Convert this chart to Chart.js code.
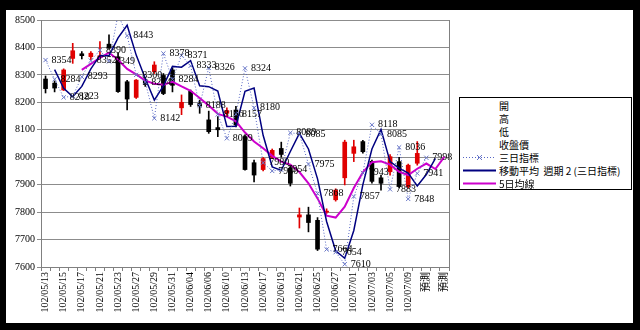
<!DOCTYPE html>
<html>
<head>
<meta charset="utf-8">
<script src="https://cdn.jsdelivr.net/npm/chart.js"></script>
<style>
  body { margin: 0; }
  #frame { position: relative; width: 640px; height: 330px; background: #000; overflow: hidden; }
  #panel { position: absolute; left: 6px; top: 10px; width: 627px; height: 313px; background: #fff; }
  #chart { position: absolute; left: 0; top: 0; }
  #legend {
    position: absolute; left: 459px; top: 97px; width: 171px; height: 90px;
    border: 1px solid #000; background: #fff; padding-top: 1px;
    font: 10px "Noto Sans CJK TC", "Liberation Serif", sans-serif; color: #000;
  }
  #legend .row { height: 13px; line-height: 13px; white-space: nowrap; display: flex; align-items: center; }
  #legend svg { width: 33px; height: 13px; margin-left: 3px; margin-right: 3px; flex: none; }
</style>
</head>
<body>
<div id="frame">
  <div id="panel"></div>
  <canvas id="chart" width="640" height="330"></canvas>
  <div id="legend">
    <div class="row"><svg></svg><span>開</span></div>
    <div class="row"><svg></svg><span>高</span></div>
    <div class="row"><svg></svg><span>低</span></div>
    <div class="row"><svg></svg><span>收盤價</span></div>
    <div class="row"><svg><line x1="0" y1="6.5" x2="33" y2="6.5" stroke="#5565c4" stroke-width="1" stroke-dasharray="1,2"/><path d="M14 4 L19 9 M19 4 L14 9" stroke="#6a78c8" stroke-width="1"/></svg><span>三日指標</span></div>
    <div class="row"><svg><line x1="0" y1="6.5" x2="33" y2="6.5" stroke="#000080" stroke-width="2"/></svg><span>移動平均&nbsp; 週期 2 (三日指標)</span></div>
    <div class="row"><svg><line x1="0" y1="6.5" x2="33" y2="6.5" stroke="#cc00cc" stroke-width="2"/></svg><span>5日均線</span></div>
  </div>
</div>
<script>
// 日期 (每兩個顯示一個)
var fechas = ["102/05/13","102/05/14","102/05/15","102/05/16","102/05/17","102/05/20","102/05/21","102/05/22","102/05/23","102/05/24",
  "102/05/27","102/05/28","102/05/29","102/05/30","102/05/31","102/06/03","102/06/04","102/06/05","102/06/06","102/06/07",
  "102/06/10","102/06/11","102/06/13","102/06/14","102/06/17","102/06/18","102/06/19","102/06/20","102/06/21","102/06/24",
  "102/06/25","102/06/26","102/06/27","102/06/28","102/07/01","102/07/02","102/07/03","102/07/04","102/07/05","102/07/08",
  "102/07/09","102/07/10","預測","預測","預測"];

// K線
var apertura = [8285,8270,8245,8360,8377,8366,8366,8412,8366,8275, 8218,8282,8312,8298,8318,8180,8240,8196,8136,8108,
  8160,8172,8075,7980,7955,8000,8032,7960,7782,7790, 7770,7800,7845,7925,8014,8057,7985,7925,7947,7984, 7893,7978,null,null,null];
var maximo = [8296,8278,8322,8415,8385,8385,8421,8446,8380,8280, 8283,8290,8348,8305,8325,8227,8245,8208,8168,8148,
  8180,8185,8080,7990,8000,8030,8055,7970,7815,7818, 7780,7812,7885,8062,8062,8062,7990,7935,8010,8000, 7975,8057,null,null,null];
var minimo = [8234,8238,8243,8342,8358,8355,8360,8396,8236,8172, 8214,8258,8305,8228,8238,8155,8185,8160,8087,8075,
  8150,8110,7953,7910,7950,7995,8000,7895,7742,7728, 7660,7795,7840,7899,7984,8015,7905,7880,7935,7888, 7888,7971,null,null,null];
var cierre = [8250,8252,8318,8388,8370,8379,8370,8398,8239,8212, 8281,8265,8336,8232,8262,8200,8192,8186,8093,8100,
  8170,8117,7955,7935,7995,8025,8010,7905,7790,7762, 7665,7803,7880,8055,8038,8020,7912,7905,8002,7893, 7971,8014,null,null,null];

// 三日指標
var tresDias = [8354,8284,8218,8223,8293,8352,8390,8349,8520,8443, 8300,8274,8142,8378,8284,8371,8333,8188,8326,8156,
  8069,8157,8324,8180,7980,7950,7954,8089,8085,7975, 7868,7664,7654,7610,7857,7943,8118,8085,7883,8036, 7848,7941,7998,null,null];

// 移動平均 週期 2 (三日指標)
var promedio2 = [null,8319,8251,8221,8258,8322,8371,8370,8435,8481, 8372,8287,8208,8260,8331,8328,8352,8260,8257,8241,
  8112,8113,8240,8252,8080,7965,7952,8021,8087,8030, 7921,7766,7659,7632,7733,7900,8030,8101,7984,7960, 7942,7895,7937,7996,null];

// 5日均線
var media5 = [null,null,null,null,8318,8340,8362,8381,8355,8322, 8302,8279,8268,8264,8275,8258,8242,8216,8188,8158,
  8148,8131,8090,8057,8033,8005,7984,7973,7946,7905, 7850,7787,7780,7820,7888,7945,7982,7985,7973,7947, 7935,7958,7977,7957,8002];

window.onload = function () {
  dibujarGrafico();
};

function colorVela(i) {
  return cierre[i] >= apertura[i] ? "#e00000" : "#000000";
}

function dibujarGrafico() {
  var cuerpos = apertura.map(function (o, i) { return o == null ? null : [o, cierre[i]]; });
  var mechas = minimo.map(function (l, i) { return l == null ? null : [l, maximo[i]]; });
  var colores = apertura.map(function (o, i) { return o == null ? "#000" : colorVela(i); });

  var etiquetas = {
    id: "etiquetas",
    afterDatasetsDraw: function (chart) {
      var ctx = chart.ctx;
      var area = chart.chartArea;
      var meta = chart.getDatasetMeta(0);
      ctx.save();
      ctx.font = '10px "Liberation Serif"';
      ctx.fillStyle = "#000";
      ctx.textBaseline = "middle";
      meta.data.forEach(function (pt, i) {
        var v = tresDias[i];
        if (v == null || pt.y < area.top) return;
        ctx.fillText(String(v), pt.x + 6, pt.y);
      });
      // borde derecho del area
      ctx.strokeStyle = "#808080";
      ctx.lineWidth = 1;
      ctx.beginPath();
      ctx.moveTo(Math.round(area.right) + 0.5, area.top);
      ctx.lineTo(Math.round(area.right) + 0.5, area.bottom);
      ctx.stroke();
      ctx.restore();
    },
  };

  var fuente = { family: '"Liberation Serif", "Noto Sans CJK TC"', size: 10 };

  new Chart(document.getElementById("chart"), {
    type: "bar",
    data: {
      labels: fechas,
      datasets: [
        {
          type: "line",
          label: "三日指標",
          data: tresDias,
          borderColor: "#5565c4",
          borderWidth: 1,
          borderDash: [1, 2],
          pointStyle: "crossRot",
          pointRadius: 3,
          pointBorderColor: "#6a78c8",
          pointBorderWidth: 1,
          tension: 0,
        },
        {
          type: "line",
          label: "移動平均 週期 2 (三日指標)",
          data: promedio2,
          borderColor: "#000080",
          borderWidth: 1.5,
          pointRadius: 0,
          tension: 0,
        },
        {
          type: "line",
          label: "5日均線",
          data: media5,
          borderColor: "#cc00cc",
          borderWidth: 2,
          pointRadius: 0,
          tension: 0,
        },
        {
          label: "實體",
          data: cuerpos,
          backgroundColor: colores,
          grouped: false,
          barThickness: 4,
          minBarLength: 1,
        },
        {
          label: "影線",
          data: mechas,
          backgroundColor: colores,
          grouped: false,
          barThickness: 1,
        },
      ],
    },
    options: {
      responsive: false,
      animation: false,
      layout: { padding: { left: 7, right: 191, top: 20, bottom: 8 } },
      plugins: { legend: { display: false }, tooltip: { enabled: false } },
      scales: {
        x: {
          offset: true,
          grid: { display: true, drawOnChartArea: false, offset: true, tickLength: 4, color: "#808080" },
          border: { color: "#808080" },
          ticks: {
            autoSkip: false,
            maxRotation: 90,
            minRotation: 90,
            padding: 1,
            color: "#000",
            font: fuente,
            callback: function (v, i) {
              return i % 2 === 0 ? this.getLabelForValue(v) : "";
            },
          },
          afterFit: function (s) { s.height = 55; },
        },
        y: {
          min: 7600,
          max: 8500,
          ticks: {
            stepSize: 100,
            color: "#000",
            font: fuente,
            padding: 2,
            callback: function (v) { return String(v); },
          },
          grid: { color: "#8c8c8c", tickLength: 4 },
          border: { color: "#808080" },
          afterFit: function (s) { s.width = 34; },
        },
      },
    },
    plugins: [etiquetas],
  });
}
</script>
</body>
</html>
